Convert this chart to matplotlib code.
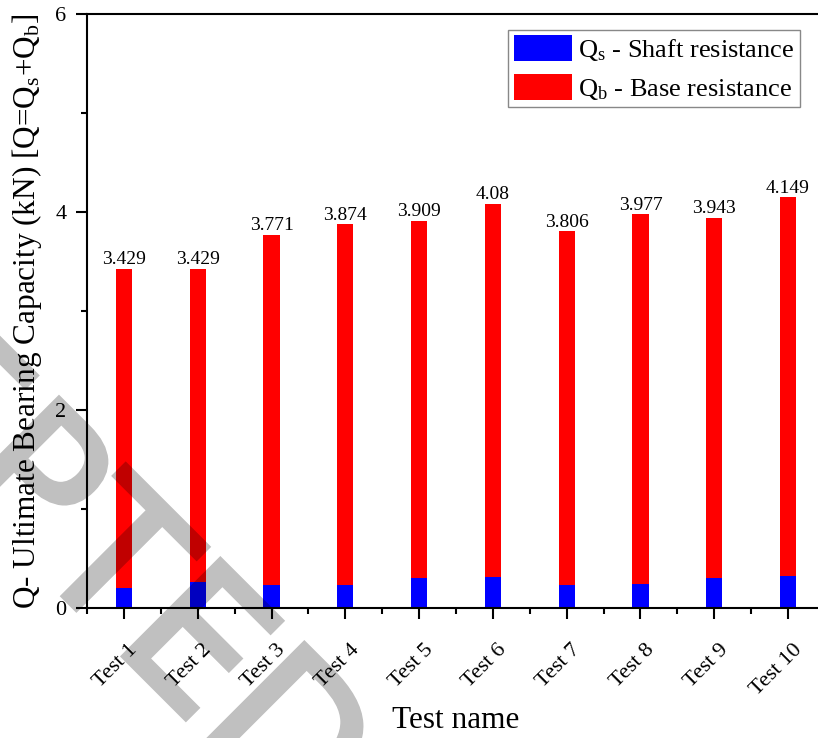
import matplotlib

matplotlib.use("Agg")
import matplotlib.pyplot as plt
from matplotlib.font_manager import FontProperties
from matplotlib.patches import PathPatch
from matplotlib.textpath import TextPath
from matplotlib.transforms import Affine2D, ScaledTranslation

plt.rcParams["font.family"] = ["Liberation Serif", "DejaVu Serif"]
plt.rcParams["mathtext.fontset"] = "custom"
plt.rcParams["mathtext.rm"] = "Liberation Serif"
plt.rcParams["mathtext.it"] = "Liberation Serif:italic"

tests = ["Test 1", "Test 2", "Test 3", "Test 4", "Test 5",
         "Test 6", "Test 7", "Test 8", "Test 9", "Test 10"]
positions = [1, 2, 3, 4, 5, 6, 7, 8, 9, 10]
total = [3.429, 3.429, 3.771, 3.874, 3.909, 4.08, 3.806, 3.977, 3.943, 4.149]
shaft = [0.20, 0.26, 0.23, 0.235, 0.30, 0.31, 0.23, 0.24, 0.30, 0.32]
base = [t - s for t, s in zip(total, shaft)]

DPI = 100
fig = plt.figure(figsize=(8.18, 7.38), dpi=DPI)
fig.patch.set_facecolor("white")
ax = fig.add_axes([87.1 / 818, 130 / 738, 737.8 / 818, 594 / 738])

ax.bar(positions, shaft, width=0.22, color="#0000ff",
       label=r"Q$_\mathrm{s}$ - Shaft resistance", zorder=2)
ax.bar(positions, base, bottom=shaft, width=0.22, color="#ff0000",
       label=r"Q$_\mathrm{b}$ - Base resistance", zorder=2)

for xi, t in zip(positions, total):
    ax.annotate(f"{t:g}", (xi, t), xytext=(0, 0.5), textcoords="offset points",
                ha="center", va="bottom", fontsize=14)

ax.set_xlim(0.5, 10.5)
ax.set_ylim(0, 6)
ax.set_yticks([0, 2, 4, 6])
ax.set_yticks([1, 3, 5], minor=True)
ax.set_xticks([p + 0.5 for p in positions[:-1]] + [0.5], minor=True)
ax.set_xticks(positions, tests, rotation=45, ha="right", va="center",
              rotation_mode="anchor")

for spine in ax.spines.values():
    spine.set_linewidth(1.5)
ax.tick_params(which="major", direction="out", length=8, width=1.5,
               labelsize=16)
ax.tick_params(which="minor", direction="out", length=4.5, width=1.5)
ax.tick_params(axis="y", pad=7)
ax.tick_params(axis="x", which="major", pad=20)
shift = ScaledTranslation(11 / DPI, 0, fig.dpi_scale_trans)
for lbl in ax.get_xticklabels():
    lbl.set_transform(lbl.get_transform() + shift)

ax.set_xlabel("Test name", fontsize=22.5, va="top")
ax.xaxis.set_label_coords(0.5, -0.165)
ax.set_ylabel(r"Q- Ultimate Bearing Capacity (kN) [Q=Q$_\mathrm{s}$+Q$_\mathrm{b}$]",
              fontsize=22.5)
ax.yaxis.set_label_coords(-0.058, 0.5)

leg = ax.legend(loc="upper right", bbox_to_anchor=(800 / 818, 708 / 738),
                bbox_transform=fig.transFigure, borderaxespad=0,
                fontsize=19, fancybox=False, framealpha=1, edgecolor="#888888",
                handlelength=2.2, handleheight=1.15, handletextpad=0.25,
                borderpad=0.2, labelspacing=0.4)
leg.get_frame().set_linewidth(1.0)


# faint "ACCEPTED" watermark running down to the right
def fade(img, dpi):
    img[..., 3] *= 0.25
    return img, 0, 0


S = 188
wm = TextPath((0, 0), "ACCEPTED", size=S, prop=FontProperties(family="DejaVu Sans"))
pivot = 3.62 * S
wm_tr = (Affine2D().translate(-pivot, 0).rotate_deg(-45).translate(72, 133)
         .scale(1 / DPI) + fig.dpi_scale_trans)
mark = PathPatch(wm, transform=wm_tr, facecolor="black", edgecolor="black",
                 linewidth=3.6, zorder=10)
mark.set_agg_filter(fade)
fig.add_artist(mark)

fig.savefig("out.png", dpi=DPI, facecolor="white")
